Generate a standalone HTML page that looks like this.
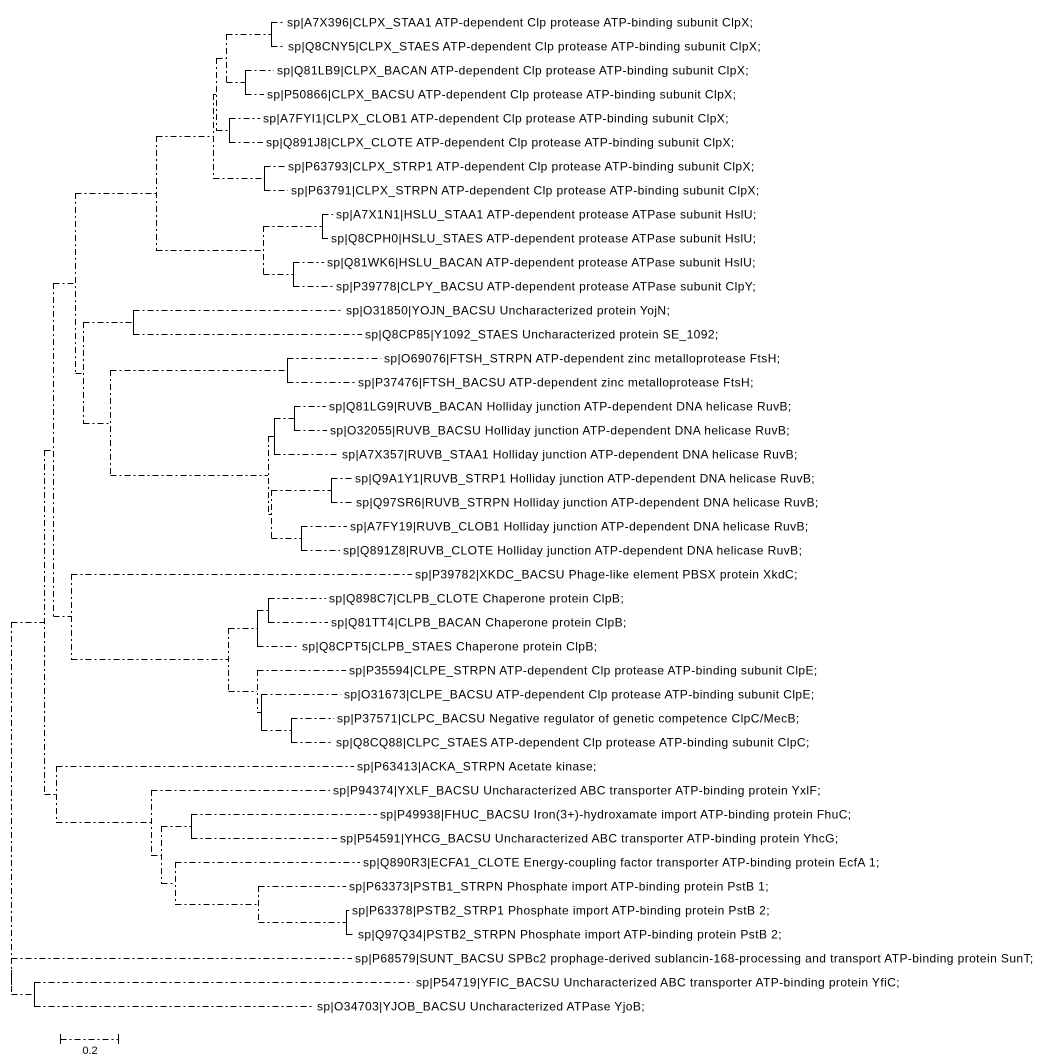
<!DOCTYPE html>
<html><head><meta charset="utf-8"><style>
html,body{margin:0;padding:0;background:#fff;}
svg{display:block;}
text{font-family:"Liberation Sans",Arial,sans-serif;font-size:12px;letter-spacing:0.41px;fill:#000;}
.l{stroke:#000;stroke-width:1;fill:none;stroke-dasharray:6,3,2,3;shape-rendering:crispEdges;}
.s{stroke:#000;stroke-width:1;fill:none;shape-rendering:crispEdges;}
</style></head><body>
<svg width="1045" height="1060" viewBox="0 0 1045 1060" xmlns="http://www.w3.org/2000/svg">
<g class="l">
<path d="M271.5 22.5H284 M271.5 46.5H285 M245.5 70.5H274 M245.5 94.5H264 M229.5 118.5H260 M229.5 142.5H263 M264.5 166.5H285 M264.5 190.5H288
M322.5 214.5H333 M322.5 238.5H328 M293.5 262.5H324 M293.5 286.5H333 M133.5 310.5H343 M133.5 334.5H362 M287.5 358.5H381 M287.5 382.5H355
M294.5 406.5H326 M294.5 430.5H327 M274.5 454.5H339 M331.5 478.5H352 M331.5 502.5H353 M301.5 526.5H347 M301.5 550.5H340
M71.5 574.5H412 M268.5 598.5H326 M268.5 622.5H328 M257.5 646.5H299 M257.5 670.5H346 M261.5 694.5H341 M291.5 718.5H334 M291.5 742.5H333
M56.5 766.5H354 M151.5 790.5H330 M191.5 814.5H377 M191.5 838.5H337 M175.5 862.5H360 M258.5 886.5H346 M346.5 910.5H349 M346.5 934.5H355
M11.5 958.5H352 M34.5 982.5H413 M34.5 1006.5H314"/>
<path d="M226.5 34.5H271 M226.5 82.5H245 M216.5 58.5H226 M216.5 130.5H229 M213.5 94.5H216 M213.5 178.5H264 M156.5 136.5H213
M263.5 226.5H322 M263.5 274.5H293 M156.5 250.5H263 M75.5 193.5H156
M83.5 322.5H133 M110.5 370.5H287 M274.5 418.5H294 M268.5 436.5H274 M271.5 490.5H331 M271.5 538.5H301 M268.5 514.5H271 M110.5 475.5H268
M83.5 423.5H110 M75.5 373.5H83 M53.5 283.5H75
M257.5 610.5H268 M228.5 628.5H257 M261.5 730.5H291 M257.5 712.5H261 M228.5 691.5H257 M71.5 659.5H228 M53.5 616.5H71 M44.5 450.5H53
M161.5 826.5H191 M258.5 922.5H346 M175.5 904.5H258 M161.5 883.5H175 M151.5 855.5H161 M56.5 822.5H151 M44.5 794.5H56 M11.5 622.5H44 M11.5 994.5H34"/>
<path d="M226.5 34V83 M216.5 58V131 M213.5 94V179 M156.5 136V251 M263.5 226V275 M75.5 193V374
M83.5 322V424 M110.5 370V476 M268.5 436V515 M271.5 490V539
M53.5 283V617 M71.5 574V660 M228.5 628V692 M257.5 670V713 M44.5 450V795 M56.5 766V823 M151.5 790V856 M161.5 826V884 M175.5 862V905 M258.5 886V923
M11.5 622V995"/>
</g>
<g class="s">
<path d="M271.5 22V47 M245.5 70V95 M229.5 118V143 M264.5 166V191 M322.5 214V239 M293.5 262V287 M133.5 310V335 M287.5 358V383
M294.5 406V431 M274.5 418V455 M331.5 478V503 M301.5 526V551 M268.5 598V623 M257.5 610V647 M291.5 718V743 M261.5 694V731
M191.5 814V839 M346.5 910V935 M34.5 982V1007 M11.5 970V985"/>
<path d="M60.5 1034V1044 M118.5 1034V1044"/>
</g>
<path class="l" d="M60.5 1039.5H118"/>
<text x="90" y="1054" text-anchor="middle" style="font-size:11px;letter-spacing:0">0.2</text>
<g>
<text x="287" y="26.5">sp|A7X396|CLPX_STAA1 ATP-dependent Clp protease ATP-binding subunit ClpX;</text>
<text x="288" y="50.5">sp|Q8CNY5|CLPX_STAES ATP-dependent Clp protease ATP-binding subunit ClpX;</text>
<text x="277" y="74.5">sp|Q81LB9|CLPX_BACAN ATP-dependent Clp protease ATP-binding subunit ClpX;</text>
<text x="267" y="98.5">sp|P50866|CLPX_BACSU ATP-dependent Clp protease ATP-binding subunit ClpX;</text>
<text x="263" y="122.5">sp|A7FYI1|CLPX_CLOB1 ATP-dependent Clp protease ATP-binding subunit ClpX;</text>
<text x="266" y="146.5">sp|Q891J8|CLPX_CLOTE ATP-dependent Clp protease ATP-binding subunit ClpX;</text>
<text x="288" y="170.5">sp|P63793|CLPX_STRP1 ATP-dependent Clp protease ATP-binding subunit ClpX;</text>
<text x="291" y="194.5">sp|P63791|CLPX_STRPN ATP-dependent Clp protease ATP-binding subunit ClpX;</text>
<text x="336" y="218.5">sp|A7X1N1|HSLU_STAA1 ATP-dependent protease ATPase subunit HslU;</text>
<text x="331" y="242.5">sp|Q8CPH0|HSLU_STAES ATP-dependent protease ATPase subunit HslU;</text>
<text x="327" y="266.5">sp|Q81WK6|HSLU_BACAN ATP-dependent protease ATPase subunit HslU;</text>
<text x="336" y="290.5">sp|P39778|CLPY_BACSU ATP-dependent protease ATPase subunit ClpY;</text>
<text x="346" y="314.5">sp|O31850|YOJN_BACSU Uncharacterized protein YojN;</text>
<text x="365" y="338.5">sp|Q8CP85|Y1092_STAES Uncharacterized protein SE_1092;</text>
<text x="384" y="362.5">sp|O69076|FTSH_STRPN ATP-dependent zinc metalloprotease FtsH;</text>
<text x="358" y="386.5">sp|P37476|FTSH_BACSU ATP-dependent zinc metalloprotease FtsH;</text>
<text x="329" y="410.5">sp|Q81LG9|RUVB_BACAN Holliday junction ATP-dependent DNA helicase RuvB;</text>
<text x="330" y="434.5">sp|O32055|RUVB_BACSU Holliday junction ATP-dependent DNA helicase RuvB;</text>
<text x="342" y="458.5">sp|A7X357|RUVB_STAA1 Holliday junction ATP-dependent DNA helicase RuvB;</text>
<text x="355" y="482.5">sp|Q9A1Y1|RUVB_STRP1 Holliday junction ATP-dependent DNA helicase RuvB;</text>
<text x="356" y="506.5">sp|Q97SR6|RUVB_STRPN Holliday junction ATP-dependent DNA helicase RuvB;</text>
<text x="350" y="530.5">sp|A7FY19|RUVB_CLOB1 Holliday junction ATP-dependent DNA helicase RuvB;</text>
<text x="343" y="554.5">sp|Q891Z8|RUVB_CLOTE Holliday junction ATP-dependent DNA helicase RuvB;</text>
<text x="415" y="578.5">sp|P39782|XKDC_BACSU Phage-like element PBSX protein XkdC;</text>
<text x="329" y="602.5">sp|Q898C7|CLPB_CLOTE Chaperone protein ClpB;</text>
<text x="331" y="626.5">sp|Q81TT4|CLPB_BACAN Chaperone protein ClpB;</text>
<text x="302" y="650.5">sp|Q8CPT5|CLPB_STAES Chaperone protein ClpB;</text>
<text x="349" y="674.5">sp|P35594|CLPE_STRPN ATP-dependent Clp protease ATP-binding subunit ClpE;</text>
<text x="344" y="698.5">sp|O31673|CLPE_BACSU ATP-dependent Clp protease ATP-binding subunit ClpE;</text>
<text x="337" y="722.5">sp|P37571|CLPC_BACSU Negative regulator of genetic competence ClpC/MecB;</text>
<text x="336" y="746.5">sp|Q8CQ88|CLPC_STAES ATP-dependent Clp protease ATP-binding subunit ClpC;</text>
<text x="357" y="770.5">sp|P63413|ACKA_STRPN Acetate kinase;</text>
<text x="333" y="794.5">sp|P94374|YXLF_BACSU Uncharacterized ABC transporter ATP-binding protein YxlF;</text>
<text x="380" y="818.5">sp|P49938|FHUC_BACSU Iron(3+)-hydroxamate import ATP-binding protein FhuC;</text>
<text x="340" y="842.5">sp|P54591|YHCG_BACSU Uncharacterized ABC transporter ATP-binding protein YhcG;</text>
<text x="363" y="866.5">sp|Q890R3|ECFA1_CLOTE Energy-coupling factor transporter ATP-binding protein EcfA 1;</text>
<text x="349" y="890.5">sp|P63373|PSTB1_STRPN Phosphate import ATP-binding protein PstB 1;</text>
<text x="352" y="914.5">sp|P63378|PSTB2_STRP1 Phosphate import ATP-binding protein PstB 2;</text>
<text x="358" y="938.5">sp|Q97Q34|PSTB2_STRPN Phosphate import ATP-binding protein PstB 2;</text>
<text x="355" y="962.5">sp|P68579|SUNT_BACSU SPBc2 prophage-derived sublancin-168-processing and transport ATP-binding protein SunT;</text>
<text x="416" y="986.5">sp|P54719|YFIC_BACSU Uncharacterized ABC transporter ATP-binding protein YfiC;</text>
<text x="317" y="1010.5">sp|O34703|YJOB_BACSU Uncharacterized ATPase YjoB;</text>
</g>
</svg>
</body></html>
